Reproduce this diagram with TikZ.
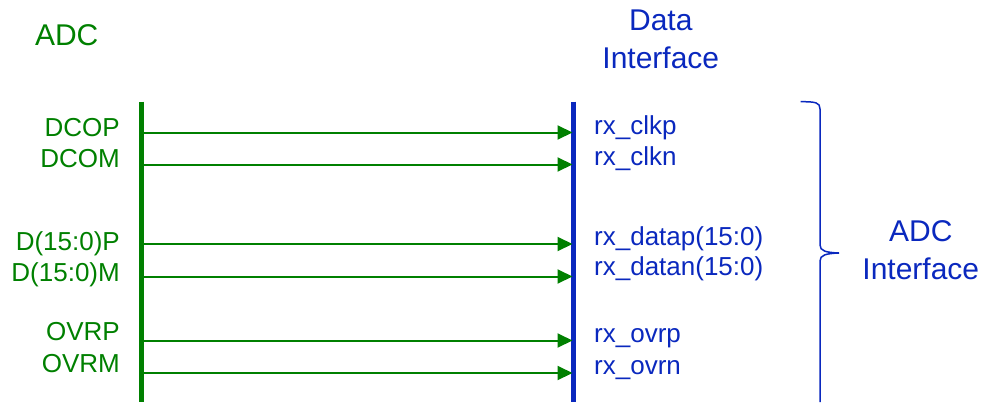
\documentclass[tikz,border=0pt]{standalone}
\usepackage{fontspec}
\setmainfont{Liberation Sans}
\usetikzlibrary{arrows.meta,positioning}
\definecolor{adcgreen}{RGB}{0,128,0}
\definecolor{ifblue}{RGB}{10,40,190}

\begin{document}
\begin{tikzpicture}[
    x=1pt, y=-1pt,
    title/.style={font=\fontsize{30}{38}\selectfont, align=center, anchor=base, inner sep=0pt},
    adcpin/.style={font=\fontsize{26}{30}\selectfont, text=adcgreen, anchor=base east, inner sep=0pt},
    rxpin/.style={font=\fontsize{26}{30}\selectfont, text=ifblue, anchor=base west, inner sep=0pt},
    bus/.style={line width=5pt},
    sig/.style={-{Triangle[length=15pt,width=14pt]}, line width=2pt, adcgreen}
]
    \useasboundingbox (0,0) rectangle (985,402);

    % headings
    \node[title, text=adcgreen] (adc) at (66.7,45) {ADC};
    \node[title, text=ifblue] (dif) at (660.8,68) {Data\\Interface};
    \node[title, text=ifblue] (aif) at (920.8,279) {ADC\\Interface};

    % buses
    \coordinate (gtop) at (141.7,101.7);
    \coordinate (gbot) at (141.7,402);
    \coordinate (btop) at (573.7,101.7);
    \coordinate (bbot) at (573.7,402);
    \draw[bus, adcgreen] (gtop) -- (gbot);
    \draw[bus, ifblue] (btop) -- (bbot);

    % ADC side pins
    \node[adcpin] (dcop) at (120,136.7) {DCOP};
    \node[adcpin] (dcom) at (120,167.5) {DCOM};
    \node[adcpin] (dp) at (120,250) {D(15:0)P};
    \node[adcpin] (dm) at (120,281) {D(15:0)M};
    \node[adcpin] (ovrp) at (120,340) {OVRP};
    \node[adcpin] (ovrm) at (120,372) {OVRM};

    % interface side pins
    \node[rxpin] (clkp) at (594,134) {rx\_clkp};
    \node[rxpin] (clkn) at (594,165.5) {rx\_clkn};
    \node[rxpin] (datap) at (594,245.7) {rx\_datap(15:0)};
    \node[rxpin] (datan) at (594,275.5) {rx\_datan(15:0)};
    \node[rxpin] (rovrp) at (594,342) {rx\_ovrp};
    \node[rxpin] (rovrn) at (594,374) {rx\_ovrn};

    % signals
    \coordinate (s1) at (144,132.5);   \coordinate (t1) at (572.5,132.5);
    \coordinate (s2) at (144,164.5);   \coordinate (t2) at (572.5,164.5);
    \coordinate (s3) at (144,244);     \coordinate (t3) at (572.5,244);
    \coordinate (s4) at (144,276.5);   \coordinate (t4) at (572.5,276.5);
    \coordinate (s5) at (144,340.5);   \coordinate (t5) at (572.5,340.5);
    \coordinate (s6) at (144,373);     \coordinate (t6) at (572.5,373);
    \draw[sig] (s1) -- (t1);
    \draw[sig] (s2) -- (t2);
    \draw[sig] (s3) -- (t3);
    \draw[sig] (s4) -- (t4);
    \draw[sig] (s5) -- (t5);
    \draw[sig] (s6) -- (t6);

    % brace
    \draw[ifblue, line width=1.5pt]
        (800.7,101.7) .. controls (816,101.7) and (820,102.5) .. (820,109)
        -- (820,245) .. controls (820,251) and (826,252.5) .. (839,253)
        .. controls (826,253.5) and (820,255) .. (820,261)
        -- (820,402);
\end{tikzpicture}
\end{document}
